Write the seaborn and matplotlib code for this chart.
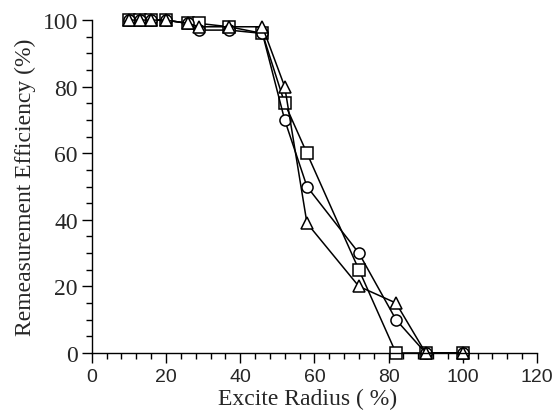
import matplotlib
matplotlib.use("Agg")
import matplotlib.pyplot as plt
import seaborn as sns
import pandas as pd
from matplotlib.ticker import MultipleLocator

radius = [10, 13, 16, 20, 26, 29, 37, 46, 52, 58, 72, 82, 90, 100]
eff_square = [100, 100, 100, 100, 99, 99, 98, 96, 75, 60, 25, 0, 0, 0]
eff_circle = [100, 100, 100, 100, 99, 97, 97, 96, 70, 50, 30, 10, 0, 0]
eff_triangle = [100, 100, 100, 100, 99, 98, 98, 98, 80, 39, 20, 15, 0, 0]

series = {"square": (eff_square, "s"),
          "circle": (eff_circle, "o"),
          "triangle": (eff_triangle, "^")}

sns.set_style("ticks")
fig = plt.figure(figsize=(5.53, 4.14), dpi=100)
ax = fig.add_axes([0.166, 0.145, 0.805, 0.804])

for name, (vals, mk) in series.items():
    df = pd.DataFrame({"x": radius, "y": vals})
    sns.lineplot(data=df, x="x", y="y", ax=ax, color="black", lw=1.1,
                 marker=mk, markersize=8, markerfacecolor="white",
                 markeredgecolor="black", markeredgewidth=1.1, clip_on=False)

ax.set_xlim(0, 120)
ax.set_ylim(0, 100)
ax.xaxis.set_major_locator(MultipleLocator(20))
ax.xaxis.set_minor_locator(MultipleLocator(4))
ax.yaxis.set_major_locator(MultipleLocator(20))
ax.yaxis.set_minor_locator(MultipleLocator(5))
ax.tick_params(which="major", direction="out", length=7, width=1.0, color="black")
ax.tick_params(which="minor", direction="out", length=4, width=1.0, color="black")
ax.tick_params(axis="x", which="major", pad=4)
ax.tick_params(axis="y", which="major", pad=3)
for s in ["top", "right"]:
    ax.spines[s].set_visible(False)
for s in ["left", "bottom"]:
    ax.spines[s].set_color("black")
    ax.spines[s].set_linewidth(1.0)

for lab in ax.get_xticklabels():
    lab.set_fontfamily("Liberation Sans")
    lab.set_fontsize(14)
for lab in ax.get_yticklabels():
    lab.set_fontfamily("Liberation Serif")
    lab.set_fontsize(17)

ax.set_xlabel("Excite Radius ( %)", fontfamily="Liberation Serif", fontsize=17, labelpad=0)
ax.xaxis.set_label_coords(0.485, -0.105)
ax.set_ylabel("Remeasurement Efficiency (%)", fontfamily="Liberation Serif", fontsize=17, labelpad=5)

fig.savefig("out.png", dpi=100)
